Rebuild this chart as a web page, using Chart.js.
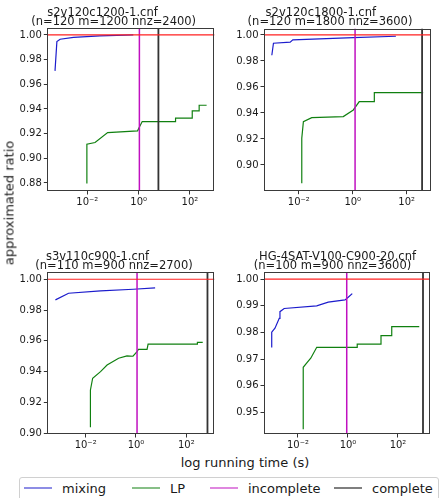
<!DOCTYPE html>
<html>
<head>
<meta charset="utf-8">
<script src="https://cdn.jsdelivr.net/npm/chart.js@4.4.1/dist/chart.umd.min.js"></script>
<style>
  body { margin: 0; background: #fff; }
  #page { position: relative; width: 440px; height: 498px; overflow: hidden; font-family: "DejaVu Sans", sans-serif; color: #1a1a1a; }
  canvas { position: absolute; }
  .title { position: absolute; width: 220px; text-align: center; font-size: 11.5px; line-height: 9px; white-space: nowrap; }
  .ylab { position: absolute; left: 9px; top: 203px; font-size: 13px; white-space: nowrap; transform: translate(-50%, -50%) rotate(-90deg); }
  .xlab { position: absolute; left: 245px; top: 462px; font-size: 13px; white-space: nowrap; transform: translate(-50%, -50%); }
  .legend { position: absolute; left: 19px; top: 477px; width: 418px; height: 40px; border: 1px solid #d0d0d0; border-radius: 3px; }
  .item { position: absolute; top: 488px; font-size: 13px; transform: translateY(-50%); white-space: nowrap; }
  .swatch { position: absolute; top: 488px; width: 28px; height: 0; border-top: 1.5px solid; transform: translateY(-50%); }
</style>
</head>
<body>
<div id="page">
  <canvas id="c1" width="220" height="220" style="left:0;top:0"></canvas>
  <canvas id="c2" width="220" height="220" style="left:220px;top:0"></canvas>
  <canvas id="c3" width="220" height="205" style="left:0;top:245px"></canvas>
  <canvas id="c4" width="220" height="205" style="left:220px;top:245px"></canvas>
  <div id="titles"></div>
  <div class="ylab">approximated ratio</div>
  <div class="xlab">log running time (s)</div>
  <div class="legend"></div>
  <div id="legendItems"></div>
</div>
<script>
// instances
const names = ['s2v120c1200-1.cnf', 's2v120c1800-1.cnf', 's3v110c900-1.cnf', 'HG-4SAT-V100-C900-20.cnf'];
const sizes = ['(n=120 m=1200 nnz=2400)', '(n=120 m=1800 nnz=3600)', '(n=110 m=900 nnz=2700)', '(n=100 m=900 nnz=3600)'];

// mixing method, time (s) vs ratio
const mixTime1 = [0.00055, 0.00065, 0.00087, 0.0029, 0.031, 0.62];
const mixRatio1 = [0.9709, 0.9946, 0.9965, 0.9981, 0.9992, 1.0000];
const mixTime2 = [0.0010, 0.00115, 0.0048, 0.0060, 1.05, 39.8];
const mixRatio2 = [0.9844, 0.9936, 0.9944, 0.9962, 0.9979, 0.9990];
const mixTime3 = [0.00063, 0.0021, 0.039, 0.79, 5.75];
const mixRatio3 = [0.9866, 0.9909, 0.9924, 0.9935, 0.9944];
const mixTime4 = [0.00089, 0.00089, 0.0012, 0.00178, 0.0019, 0.0028, 0.056, 0.162, 0.759, 1.02, 1.48];
const mixRatio4 = [0.9743, 0.9801, 0.9816, 0.9853, 0.9878, 0.9890, 0.9900, 0.9914, 0.9922, 0.9932, 0.9946];

// LP rounding
const lpTime1 = [0.0096, 0.0096, 0.020, 0.062, 0.91, 1.05, 1.38, 27.5, 27.5, 123, 123, 229, 229, 447];
const lpRatio1 = [0.8795, 0.9115, 0.9128, 0.9209, 0.9223, 0.9250, 0.9298, 0.9298, 0.9325, 0.9325, 0.9385, 0.9385, 0.9430, 0.9430];
const lpTime2 = [0.0129, 0.0129, 0.0148, 0.0302, 0.447, 1.05, 1.74, 6.31, 6.31, 407];
const lpRatio2 = [0.8859, 0.9205, 0.9333, 0.9364, 0.9372, 0.9423, 0.9487, 0.9487, 0.9556, 0.9556];
const lpTime3 = [0.0155, 0.0155, 0.019, 0.039, 0.071, 0.204, 0.437, 0.759, 1.10, 1.26, 2.75, 3.02, 275, 275, 447];
const lpRatio3 = [0.9039, 0.9281, 0.9357, 0.9400, 0.9443, 0.9487, 0.9502, 0.9500, 0.9530, 0.9545, 0.9545, 0.9578, 0.9578, 0.9590, 0.9590];
const lpTime4 = [0.0162, 0.0162, 0.0234, 0.0324, 0.0562, 2.34, 2.34, 20.9, 20.9, 56.2, 56.2, 708];
const lpRatio4 = [0.9436, 0.9669, 0.9687, 0.9703, 0.9744, 0.9744, 0.9756, 0.9756, 0.9788, 0.9788, 0.9822, 0.9822];

// solver times for the exact methods and the optimum
const incompleteTime = [1.07, 1.22, 1.10, 0.89];
const completeTime = [5.9, 372, 690, 1000];
const optimum = 1.0;

// ticks
const xTicks = [0.01, 1, 100];
const xTickLabels = ['10\u207B\u00B2', '10\u2070', '10\u00B2'];
const yTicks1 = [0.88, 0.90, 0.92, 0.94, 0.96, 0.98, 1.00];
const yTicks2 = [0.90, 0.92, 0.94, 0.96, 0.98, 1.00];
const yTicks3 = [0.90, 0.92, 0.94, 0.96, 0.98, 1.00];
const yTicks4 = [0.95, 0.96, 0.97, 0.98, 0.99, 1.00];

const colors = { mixing: '#1c1ccc', lp: '#108010', incomplete: '#c010c0', complete: '#333333', opt: '#ff2020' };

const panels = [
  { id: 'c1', mt: mixTime1, mr: mixRatio1, lt: lpTime1, lr: lpRatio1, yt: yTicks1, x: [0.000275, 891], y: [0.8735, 1.0054],
    g: { yw: 47.3, top: 28.3, pr: 5.7, xh: 29 }, t: { left: 0, top: 8, c1: 102.5, c2: 113.7 } },
  { id: 'c2', mt: mixTime2, mr: mixRatio2, lt: lpTime2, lr: lpRatio2, yt: yTicks2, x: [0.000513, 776], y: [0.8802, 1.0048],
    g: { yw: 44, top: 28.7, pr: 9.3, xh: 29.3 }, t: { left: 220, top: 8, c1: 320.8, c2: 330 } },
  { id: 'c3', mt: mixTime3, mr: mixRatio3, lt: lpTime3, lr: lpRatio3, yt: yTicks3, x: [0.000316, 1288], y: [0.8995, 1.0045],
    g: { yw: 47.3, top: 27.3, pr: 5.7, xh: 16 }, t: { left: 0, top: 252, c1: 97.5, c2: 114 } },
  { id: 'c4', mt: mixTime4, mr: mixRatio4, lt: lpTime4, lr: lpRatio4, yt: yTicks4, x: [0.000437, 1905], y: [0.9418, 1.0026],
    g: { yw: 44, top: 27.3, pr: 10, xh: 16 }, t: { left: 220, top: 252, c1: 337.5, c2: 332.5 } },
];

const zip = (xs, ys) => xs.map((x, i) => ({ x: x, y: ys[i] }));

// matplotlib-like box around the plot area
const frame = {
  id: 'frame',
  afterDatasetsDraw(chart) {
    const a = chart.chartArea, ctx = chart.ctx;
    ctx.save();
    ctx.strokeStyle = '#3a3a3a';
    ctx.lineWidth = 1;
    ctx.strokeRect(Math.round(a.left) + 0.5, Math.round(a.top) + 0.5, Math.round(a.right - a.left) - 1, Math.round(a.bottom - a.top) - 1);
    ctx.restore();
  }
};

panels.forEach((p, i) => {
  const line = (data, color, width, order) => ({
    data: data, borderColor: color, borderWidth: width, pointRadius: 0, tension: 0, fill: false, order: order
  });
  new Chart(document.getElementById(p.id), {
    type: 'line',
    data: {
      datasets: [
        line(zip(p.mt, p.mr), colors.mixing, 1.2, 5),
        line(zip(p.lt, p.lr), colors.lp, 1.2, 4),
        line([{ x: incompleteTime[i], y: 0 }, { x: incompleteTime[i], y: 2 }], colors.incomplete, 1.5, 3),
        line([{ x: completeTime[i], y: 0 }, { x: completeTime[i], y: 2 }], colors.complete, 1.8, 2),
        line([{ x: 1e-9, y: optimum }, { x: 1e9, y: optimum }], colors.opt, 1.2, 1),
      ]
    },
    options: {
      responsive: false,
      animation: false,
      events: [],
      layout: { padding: { top: p.g.top, right: p.g.pr, left: 0, bottom: 0 } },
      plugins: { legend: { display: false }, tooltip: { enabled: false } },
      scales: {
        x: {
          type: 'logarithmic',
          min: p.x[0], max: p.x[1],
          afterFit: s => { s.height = p.g.xh; },
          afterBuildTicks: s => { s.ticks = xTicks.map(v => ({ value: v })); },
          grid: { drawOnChartArea: false, drawTicks: true, tickLength: 3.5, color: '#333' },
          border: { display: false },
          ticks: {
            autoSkip: false, maxRotation: 0, padding: 2, color: '#1a1a1a',
            font: { family: 'DejaVu Sans', size: 10 },
            callback: v => xTickLabels[xTicks.indexOf(v)]
          }
        },
        y: {
          type: 'linear',
          min: p.y[0], max: p.y[1],
          afterFit: s => { s.width = p.g.yw; },
          afterBuildTicks: s => { s.ticks = p.yt.map(v => ({ value: v })); },
          grid: { drawOnChartArea: false, drawTicks: true, tickLength: 3.5, color: '#333' },
          border: { display: false },
          ticks: {
            autoSkip: false, padding: 2, color: '#1a1a1a',
            font: { family: 'DejaVu Sans', size: 10 },
            callback: v => v.toFixed(2)
          }
        }
      }
    },
    plugins: [frame]
  });

  // two-line subplot title
  const box = document.getElementById('titles');
  [[names[i], p.t.c1, 0], [sizes[i], p.t.c2, 9]].forEach(([txt, cx, dy]) => {
    const d = document.createElement('div');
    d.className = 'title';
    d.textContent = txt;
    d.style.left = (cx - 110) + 'px';
    d.style.top = (p.t.top + dy) + 'px';
    box.appendChild(d);
  });
});

// shared legend
const legendLabels = ['mixing', 'LP', 'incomplete', 'complete'];
const legendColors = [colors.mixing, colors.lp, colors.incomplete, '#000'];
const legendX = [24, 132, 210, 334];
const items = document.getElementById('legendItems');
legendLabels.forEach((lab, i) => {
  const s = document.createElement('div');
  s.className = 'swatch';
  s.style.left = legendX[i] + 'px';
  s.style.borderTopColor = legendColors[i];
  items.appendChild(s);
  const t = document.createElement('div');
  t.className = 'item';
  t.style.left = (legendX[i] + 38) + 'px';
  t.textContent = lab;
  items.appendChild(t);
});
</script>
</body>
</html>
